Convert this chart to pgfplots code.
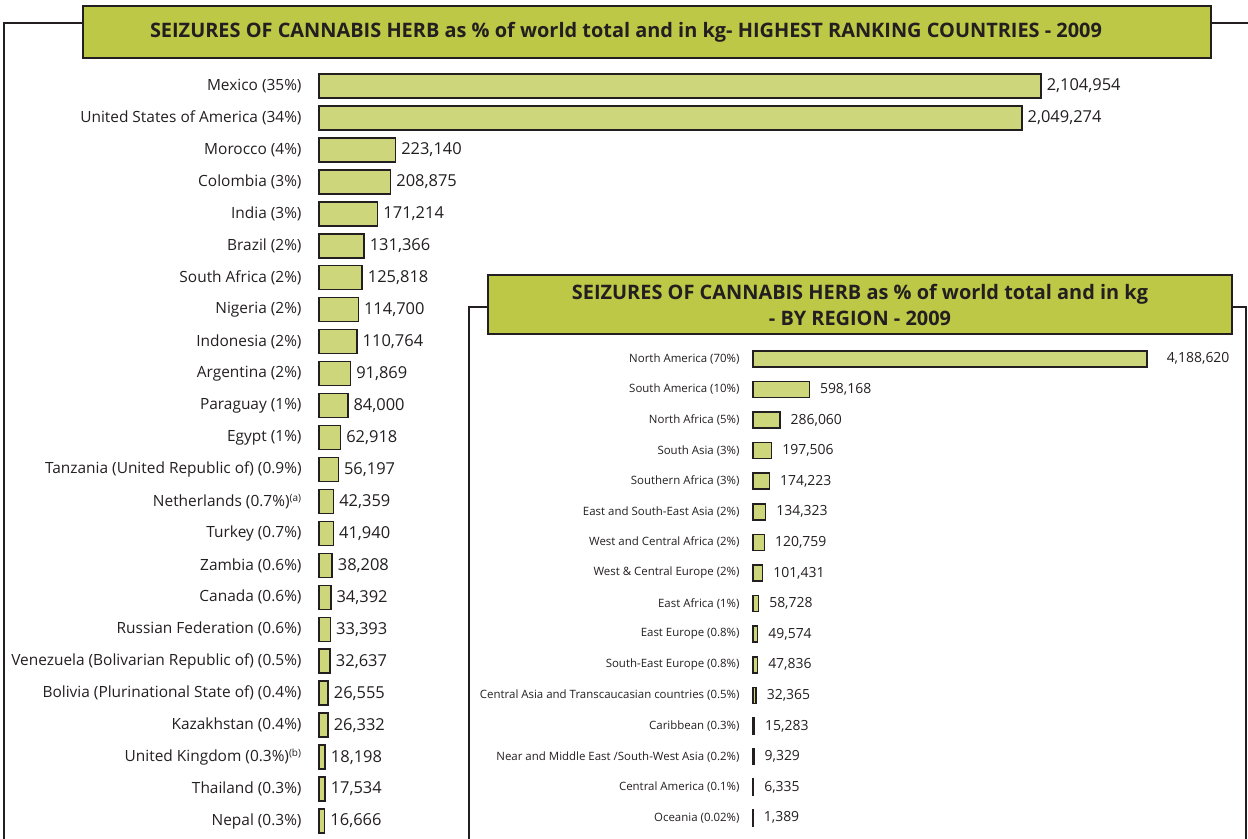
\documentclass[border=0pt]{standalone}
\usepackage{pgfplots}
\pgfplotsset{compat=1.18}
\usepackage{fontspec}
\setmainfont{Open Sans}

\definecolor{barfill}{RGB}{205,214,122}
\definecolor{titlefill}{RGB}{188,200,70}
\definecolor{ink}{RGB}{35,31,32}

% countries, kg
\pgfplotstableread{
y kg lab
0 2104954 {2,104,954}
1 2049274 {2,049,274}
2 223140 {223,140}
3 208875 {208,875}
4 171214 {171,214}
5 131366 {131,366}
6 125818 {125,818}
7 114700 {114,700}
8 110764 {110,764}
9 91869 {91,869}
10 84000 {84,000}
11 62918 {62,918}
12 56197 {56,197}
13 42359 {42,359}
14 41940 {41,940}
15 38208 {38,208}
16 34392 {34,392}
17 33393 {33,393}
18 32637 {32,637}
19 26555 {26,555}
20 26332 {26,332}
21 18198 {18,198}
22 17534 {17,534}
23 16666 {16,666}
}\countries

% regions, kg
\pgfplotstableread{
y kg lab
0 4188620 {\hspace{9bp}4,188,620}
1 598168 {598,168}
2 286060 {286,060}
3 197506 {197,506}
4 174223 {174,223}
5 134323 {134,323}
6 120759 {120,759}
7 101431 {101,431}
8 58728 {58,728}
9 49574 {49,574}
10 47836 {47,836}
11 32365 {32,365}
12 15283 {15,283}
13 9329 {9,329}
14 6335 {6,335}
15 1389 {1,389}
}\regions

\pgfplotsset{
  seizbars/.style={
    xbar, scale only axis, clip=false,
    xmin=0, y dir=reverse,
    axis line style={draw=none},
    tick style={draw=none},
    xtick=\empty,
    yticklabel style={text=ink, anchor=east, inner sep=0pt},
    point meta=explicit symbolic,
    nodes near coords,
    nodes near coords align={horizontal},
  },
}

\begin{document}
\begin{tikzpicture}
\useasboundingbox (0,0) rectangle (1248bp,-839bp);

\begin{scope}[x=1bp,y=-1bp]
% main frame and title
\draw[ink, line width=2bp] (4,845) -- (4,23) -- (83,23);
\draw[ink, line width=2bp] (1211,23) -- (1250,23);
\draw[fill=titlefill, draw=ink, line width=1.5bp] (83,6) rectangle (1211,58);
\node[text=ink, font=\bfseries\fontsize{20}{23}\selectfont] at (626,32)
  {SEIZURES OF CANNABIS HERB as \% of world total and in kg- HIGHEST RANKING COUNTRIES - 2009};
\end{scope}

\begin{axis}[seizbars,
  at={(319bp,-70bp)}, anchor=north west,
  width=722bp, height=767bp,
  xmax=2104954,
  ymin=-0.5, ymax=23.5,
  bar width=24bp,
  ytick={0,...,23},
  yticklabels={Mexico (35\%),United States of America (34\%),Morocco (4\%),Colombia (3\%),India (3\%),Brazil (2\%),South Africa (2\%),Nigeria (2\%),Indonesia (2\%),Argentina (2\%),Paraguay (1\%),Egypt (1\%),Tanzania (United Republic of) (0.9\%),Netherlands (0.7\%)\textsuperscript{\fontsize{10}{10}\selectfont(a)},Turkey (0.7\%),Zambia (0.6\%),Canada (0.6\%),Russian Federation (0.6\%),Venezuela (Bolivarian Republic of) (0.5\%),Bolivia (Plurinational State of) (0.4\%),Kazakhstan (0.4\%),United Kingdom (0.3\%)\textsuperscript{\fontsize{10}{10}\selectfont(b)},Thailand (0.3\%),Nepal (0.3\%)},
  yticklabel style={font=\fontsize{15.5}{18}\selectfont, xshift=-13bp},
  every node near coord/.append style={anchor=west, inner sep=0pt, xshift=5bp, text=ink, font=\fontsize{16.5}{19}\selectfont},
]
\addplot[fill=barfill, draw=ink, line width=1.5bp] table[x=kg, y=y, meta=lab] {\countries};
\end{axis}

\begin{scope}[x=1bp,y=-1bp]
% inset frame and title
\fill[white] (469,307) rectangle (1246,845);
\draw[ink, line width=2bp] (469,845) -- (469,307) -- (488,307);
\draw[ink, line width=2bp] (1232,307) -- (1246,307) -- (1246,845);
\draw[fill=titlefill, draw=ink, line width=1.5bp] (488,275) rectangle (1232,334);
\node[text=ink, font=\bfseries\fontsize{20}{26}\selectfont, align=center] at (860,305)
  {SEIZURES OF CANNABIS HERB as \% of world total and in kg\\- BY REGION - 2009};
\end{scope}

\begin{axis}[seizbars,
  at={(753bp,-343.5bp)}, anchor=north west,
  width=394bp, height=489.6bp,
  xmax=4188620,
  ymin=-0.5, ymax=15.5,
  bar width=16bp,
  ytick={0,...,15},
  yticklabels={North America (70\%),South America (10\%),North Africa (5\%),South Asia (3\%),Southern Africa (3\%),East and South-East Asia (2\%),West and Central Africa (2\%),West \& Central Europe (2\%),East Africa (1\%),East Europe (0.8\%),South-East Europe (0.8\%),Central Asia and Transcaucasian countries (0.5\%),Caribbean (0.3\%),Near and Middle East /South-West Asia (0.2\%),Central America (0.1\%),Oceania (0.02\%)},
  yticklabel style={font=\fontsize{11.5}{14}\selectfont, xshift=-9bp},
  every node near coord/.append style={anchor=west, inner sep=0pt, xshift=10bp, text=ink, font=\fontsize{14}{16}\selectfont},
]
\addplot[fill=barfill, draw=ink, line width=1.5bp] table[x=kg, y=y, meta=lab] {\regions};
\end{axis}
\end{tikzpicture}
\end{document}
